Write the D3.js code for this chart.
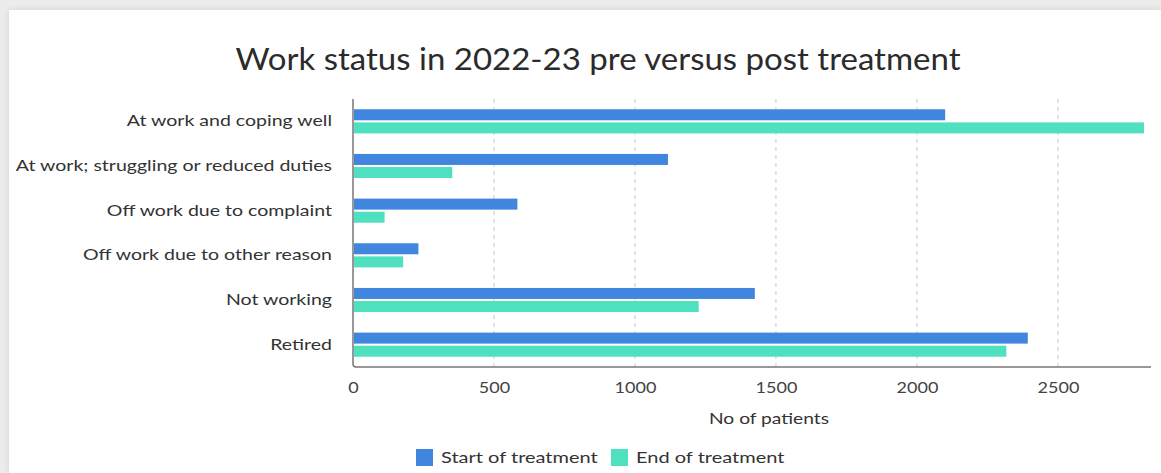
<!DOCTYPE html>
<html>
<head>
<meta charset="utf-8">
<script src="https://cdn.jsdelivr.net/npm/d3@7"></script>
<style>
  html, body { margin: 0; padding: 0; background: #ececec; }
  #card {
    position: absolute; left: 9px; top: 10px; width: 1152px; height: 463px;
    background: #fff; box-shadow: 0 0 6px rgba(0,0,0,0.12);
  }
  svg { position: absolute; left: 0; top: 0; font-family: Lato, "Open Sans", sans-serif; }
</style>
</head>
<body>
<div id="card"></div>
<svg id="chart" width="1161" height="473"></svg>
<script>
const categories = [
  "At work and coping well",
  "At work; struggling or reduced duties",
  "Off work due to complaint",
  "Off work due to other reason",
  "Not working",
  "Retired"
];
const startValues = [2100, 1117, 583, 232, 1425, 2393];
const endValues = [2805, 352, 112, 178, 1226, 2317];
const xTicks = [0, 500, 1000, 1500, 2000, 2500];
const seriesNames = ["Start of treatment", "End of treatment"];
const seriesColors = ["#4186de", "#4fe0c0"];

const svg = d3.select("#chart");
const plotLeft = 353, plotRight = 1151, plotTop = 99, plotBottom = 367;

// the source picture is stretched sideways, so text is widened to match
function widen(sel, factor) {
  sel.each(function() {
    const len = this.getComputedTextLength();
    d3.select(this).attr("textLength", len * factor).attr("lengthAdjust", "spacingAndGlyphs");
  });
}

const x = d3.scaleLinear().domain([0, 2830]).range([plotLeft, plotRight]);
const y = d3.scaleBand().domain(categories).range([plotTop, plotBottom]).paddingInner(0.46).paddingOuter(0.23);
const sub = d3.scaleBand().domain(seriesNames).range([0, y.bandwidth()]).paddingInner(0.16);

// title
svg.append("text")
  .attr("x", 598).attr("y", 70)
  .attr("text-anchor", "middle")
  .attr("font-size", 30)
  .attr("fill", "#2b2b2b")
  .text("Work status in 2022-23 pre versus post treatment")
  .call(widen, 1.1);

// dashed gridlines
svg.append("g")
  .selectAll("line")
  .data(xTicks.slice(1))
  .join("line")
  .attr("x1", d => x(d)).attr("x2", d => x(d))
  .attr("y1", plotTop).attr("y2", plotBottom)
  .attr("stroke", "#c8c8c8")
  .attr("stroke-dasharray", "4,4");

// bars
const rows = categories.map((c, i) => ({ cat: c, vals: [startValues[i], endValues[i]] }));
const g = svg.append("g");
g.selectAll("g.row")
  .data(rows)
  .join("g")
  .attr("class", "row")
  .attr("transform", d => `translate(0,${y(d.cat)})`)
  .selectAll("rect")
  .data(d => d.vals.map((v, j) => ({ name: seriesNames[j], v: v, j: j })))
  .join("rect")
  .attr("x", x(0) + 1)
  .attr("y", d => sub(d.name))
  .attr("width", d => x(d.v) - x(0) - 1)
  .attr("height", sub.bandwidth())
  .attr("fill", d => seriesColors[d.j]);

// axes frame
svg.append("path")
  .attr("d", `M${plotLeft},${plotTop} V${plotBottom - 3} Q${plotLeft},${plotBottom} ${plotLeft + 3},${plotBottom} H${plotRight}`)
  .attr("fill", "none")
  .attr("stroke", "#777")
  .attr("stroke-width", 1.5);

// y labels
const yAxis = svg.append("g")
  .attr("transform", `translate(${plotLeft},0)`)
  .call(d3.axisLeft(y).tickSize(0).tickPadding(21));
yAxis.select(".domain").remove();
yAxis.selectAll("text")
  .attr("font-family", "Lato, sans-serif")
  .attr("font-size", 16)
  .attr("fill", "#333")
  .call(widen, 1.22);

// x tick labels
const xAxis = svg.append("g")
  .attr("transform", `translate(0,${plotBottom})`)
  .call(d3.axisBottom(x).tickValues(xTicks).tickFormat(d3.format("d")).tickSize(0).tickPadding(15));
xAxis.select(".domain").remove();
xAxis.selectAll("text")
  .attr("font-family", "Lato, sans-serif")
  .attr("font-size", 15)
  .attr("fill", "#444")
  .call(widen, 1.2);

// x axis title
svg.append("text")
  .attr("x", 769).attr("y", 424)
  .attr("text-anchor", "middle")
  .attr("font-size", 16)
  .attr("fill", "#333")
  .text("No of patients")
  .call(widen, 1.2);

// legend
const legendX = [416, 611];
const legend = svg.append("g")
  .selectAll("g")
  .data(seriesNames)
  .join("g")
  .attr("transform", (d, i) => `translate(${legendX[i]},449)`);
legend.append("rect")
  .attr("width", 17).attr("height", 17)
  .attr("fill", (d, i) => seriesColors[i]);
legend.append("text")
  .attr("x", 25).attr("y", 14)
  .attr("font-size", 16)
  .attr("fill", "#333")
  .text(d => d)
  .call(widen, 1.25);
</script>
</body>
</html>
